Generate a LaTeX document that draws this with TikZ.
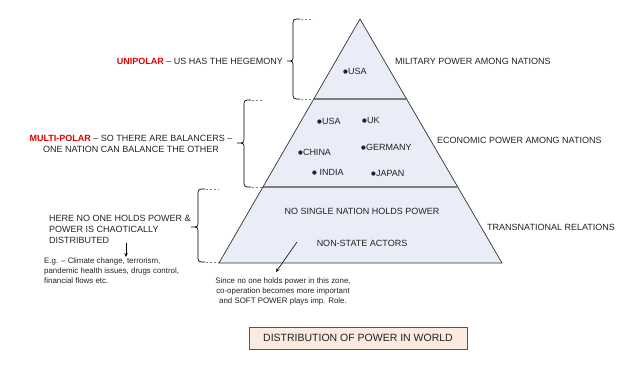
\documentclass[tikz,border=0pt]{standalone}
\usepackage{fontspec}
\setmainfont{Liberation Sans}
\newfontfamily\dejavu{DejaVu Sans}
\newcommand\natbul{\raisebox{1pt}{\dejavu\fontsize{5.5}{6}\selectfont ●}}
\usetikzlibrary{arrows.meta}
\definecolor{pyrfill}{HTML}{E8EDF7}
\definecolor{pyrline}{HTML}{333333}
\definecolor{divline}{HTML}{7F7F7F}
\definecolor{txt}{HTML}{222222}
\definecolor{redlab}{HTML}{E00000}
\definecolor{peach}{HTML}{FBEADF}
\definecolor{boxline}{HTML}{555555}
\tikzset{
  lbl/.style={inner sep=0pt, text=txt, font=\fontsize{9}{11}\selectfont},
  small/.style={inner sep=0pt, text=txt, font=\fontsize{7.9}{10}\selectfont},
  bracepath/.style={draw=black, line width=0.7pt},
  braceend/.style={draw=gray, line width=0.6pt, dash pattern=on 2pt off 2pt},
  arr/.style={draw=black, line width=0.6pt, -{Stealth[length=4pt,width=3.5pt]}},
}
\begin{document}
\begin{tikzpicture}[x=1pt,y=-1pt]
\useasboundingbox (0,0) rectangle (640,376);
% pyramid
\coordinate (apex) at (360,19);
\coordinate (bl) at (219,263);
\coordinate (br) at (502,263);
\coordinate (d1l) at (313.6,99);
\coordinate (d1r) at (406.4,99);
\coordinate (d2l) at (262.6,187);
\coordinate (d2r) at (457.4,187);
\fill[pyrfill] (apex) -- (bl) -- (br) -- cycle;
\draw[divline, line width=1.1pt] (d1l) -- (d1r);
\draw[divline, line width=1.1pt] (d2l) -- (d2r);
\draw[pyrline, line width=0.7pt] (apex) -- (bl) -- (br) -- cycle;

% braces
\draw[bracepath] (300,19) .. controls (293,19) .. (293,26) -- (293,55) .. controls (293,61) .. (287,61) .. controls (293,61) .. (293,67) -- (293,92) .. controls (293,99) .. (300,99);
\draw[braceend] (301,19) -- (313,19);
\draw[braceend] (301,99) -- (313,99);

\draw[bracepath] (251,100) .. controls (244,100) .. (244,107) -- (244,137) .. controls (244,143) .. (237,143) .. controls (244,143) .. (244,149) -- (244,180) .. controls (244,187) .. (251,187);
\draw[braceend] (252,100) -- (262,100);
\draw[braceend] (252,187) -- (262,187);

\draw[bracepath] (205,189) .. controls (198,189) .. (198,196) -- (198,221) .. controls (198,227) .. (191,227) .. controls (198,227) .. (198,233) -- (198,255) .. controls (198,262) .. (205,262);
\draw[braceend] (206,189) -- (219,189);
\draw[braceend] (206,262) -- (219,262);

% left labels
\node[lbl, anchor=base east] (uni) at (283,64.2) {\textcolor{redlab}{\textbf{UNIPOLAR}} – US HAS THE HEGEMONY};
\node[lbl, align=center, anchor=center] (multi) at (131,143.5) {\textcolor{redlab}{\textbf{MULTI-POLAR}} – SO THERE ARE BALANCERS –\\ONE NATION CAN BALANCE THE OTHER};
\node[lbl, align=left, anchor=north west] (here) at (49,214.6) {HERE NO ONE HOLDS POWER \&\\POWER IS CHAOTICALLY\\DISTRIBUTED};
\node[small, align=left, anchor=north west] (eg) at (44,257.2) {E.g. – Climate change, terrorism,\\pandemic health issues, drugs control,\\financial flows etc.};
\coordinate (a1s) at (126,243);
\coordinate (a1e) at (126,257);
\draw[arr] (a1s) -- (a1e);

% right labels
\node[lbl, anchor=base west] (mil) at (395,64.2) {MILITARY POWER AMONG NATIONS};
\node[lbl, anchor=base west] (eco) at (437,143.2) {ECONOMIC POWER AMONG NATIONS};
\node[lbl, anchor=base west] (trans) at (487,230.2) {TRANSNATIONAL RELATIONS};

% nations
\node[lbl, anchor=base west] (usa1) at (343,74.5) {\natbul USA};
\node[lbl, anchor=base west] (usa2) at (317,124.2) {\natbul USA};
\node[lbl, anchor=base west] (uk) at (362,123.2) {\natbul UK};
\node[lbl, anchor=base west] (china) at (298,155.2) {\natbul CHINA};
\node[lbl, anchor=base west] (germany) at (361,150.2) {\natbul GERMANY};
\node[lbl, anchor=base west] (india) at (312,175.2) {\natbul\ INDIA};
\node[lbl, anchor=base west] (japan) at (371,176.2) {\natbul JAPAN};

% bottom tier
\node[lbl, anchor=base] (nosingle) at (362,214.2) {NO SINGLE NATION HOLDS POWER};
\node[lbl, anchor=base] (nonstate) at (362,246) {NON-STATE ACTORS};
\node[small, align=center, anchor=north] (since) at (283,277.2) {Since no one holds power in this zone,\\co-operation becomes more important\\and SOFT POWER plays imp. Role.};
\coordinate (a2s) at (297,242);
\coordinate (a2e) at (276,272);
\draw[arr] (a2s) -- (a2e);

% title
\node[draw=boxline, fill=peach, line width=0.7pt, minimum width=218pt, minimum height=22pt, inner sep=0pt, text=txt, font=\fontsize{10.5}{12}\selectfont] (title) at (358,338) {DISTRIBUTION OF POWER IN WORLD};
\end{tikzpicture}
\end{document}
